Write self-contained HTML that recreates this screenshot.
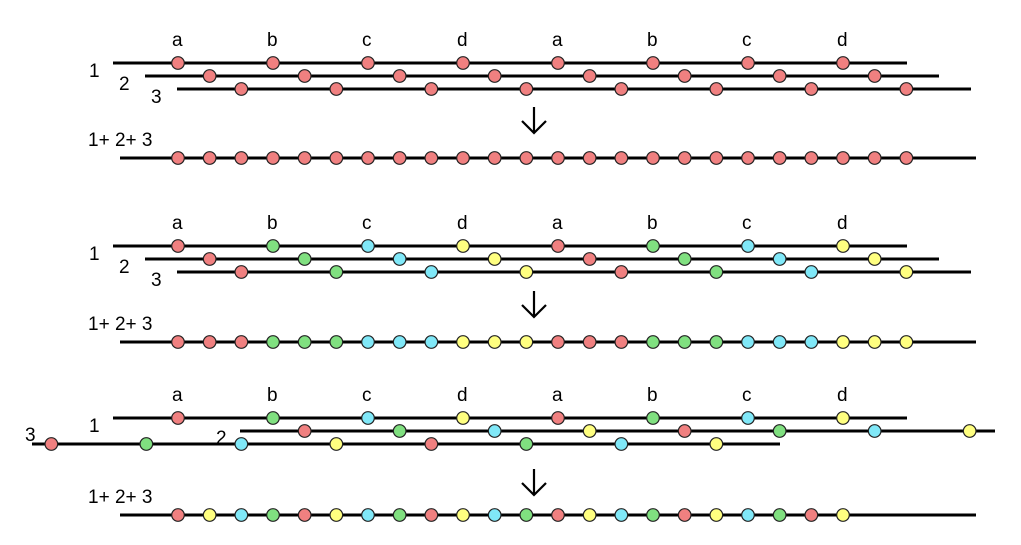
<!DOCTYPE html>
<html><head><meta charset="utf-8"><style>
html,body{margin:0;padding:0;background:#fff;width:1021px;height:545px;overflow:hidden}
text{font-family:"Liberation Sans",Arial,sans-serif;font-size:19px;fill:#000}
</style></head><body>
<svg id="s" width="1021" height="545" xmlns="http://www.w3.org/2000/svg">
<g stroke="#000" stroke-width="3">
<line x1="113" y1="63" x2="907" y2="63"/>
<line x1="145" y1="76" x2="939" y2="76"/>
<line x1="177" y1="89" x2="971" y2="89"/>
<line x1="120" y1="158" x2="976" y2="158"/>
<line x1="113" y1="246" x2="907" y2="246"/>
<line x1="145" y1="259" x2="939" y2="259"/>
<line x1="177" y1="272" x2="971" y2="272"/>
<line x1="120" y1="342" x2="976" y2="342"/>
<line x1="113" y1="418" x2="907" y2="418"/>
<line x1="240" y1="431" x2="995" y2="431"/>
<line x1="32" y1="444" x2="780" y2="444"/>
<line x1="120" y1="515" x2="976" y2="515"/>
</g>
<g stroke="#000" stroke-width="2.2" fill="none">
<path d="M534 107V133M522 121L534 133L546 121"/>
<path d="M534 291V317M522 305L534 317L546 305"/>
<path d="M534 469V495M522 483L534 495L546 483"/>
</g>
<g>
<text x="172" y="46">a</text><text x="267" y="46">b</text><text x="362" y="46">c</text><text x="457" y="46">d</text>
<text x="552" y="46">a</text><text x="647" y="46">b</text><text x="742" y="46">c</text><text x="837" y="46">d</text>
<text x="89" y="77">1</text><text x="119" y="90">2</text><text x="151" y="103">3</text>
<text x="88" y="146">1+ 2+ 3</text>
<text x="172" y="229">a</text><text x="267" y="229">b</text><text x="362" y="229">c</text><text x="457" y="229">d</text>
<text x="552" y="229">a</text><text x="647" y="229">b</text><text x="742" y="229">c</text><text x="837" y="229">d</text>
<text x="89" y="260">1</text><text x="119" y="273">2</text><text x="151" y="286">3</text>
<text x="88" y="330">1+ 2+ 3</text>
<text x="172" y="401">a</text><text x="267" y="401">b</text><text x="362" y="401">c</text><text x="457" y="401">d</text>
<text x="552" y="401">a</text><text x="647" y="401">b</text><text x="742" y="401">c</text><text x="837" y="401">d</text>
<text x="89" y="432">1</text><text x="216" y="444">2</text><text x="25" y="441">3</text>
<text x="88" y="503">1+ 2+ 3</text>
</g>
<g id="dots" stroke="#222" stroke-width="1.2"></g>
</svg>
<script>
var R="#f08080",G="#80e080",C="#80e8f8",Y="#ffff80";
var g=document.getElementById("dots");
function d(x,y,c){var e=document.createElementNS("http://www.w3.org/2000/svg","circle");e.setAttribute("cx",x);e.setAttribute("cy",y);e.setAttribute("r",6.3);e.setAttribute("fill",c);g.appendChild(e);}
var st=95.0/3;
function X(i){return 178+i*st;}
var cyc=[R,G,C,Y];
for(var k=0;k<8;k++){
 d(X(3*k),63,R);d(X(3*k+1),76,R);d(X(3*k+2),89,R);
 d(X(3*k),246,cyc[k%4]);d(X(3*k+1),259,cyc[k%4]);d(X(3*k+2),272,cyc[k%4]);
 d(X(3*k),418,cyc[k%4]);d(X(3*k+4),431,cyc[k%4]);d(X(3*k-4),444,cyc[k%4]);
}
var m2=[R,R,R,G,G,G,C,C,C,Y,Y,Y];
var m3=[R,Y,C,G];
for(var i=0;i<24;i++){d(X(i),158,R);d(X(i),342,m2[i%12]);if(i<22)d(X(i),515,m3[i%4]);}
</script>
</body></html>
